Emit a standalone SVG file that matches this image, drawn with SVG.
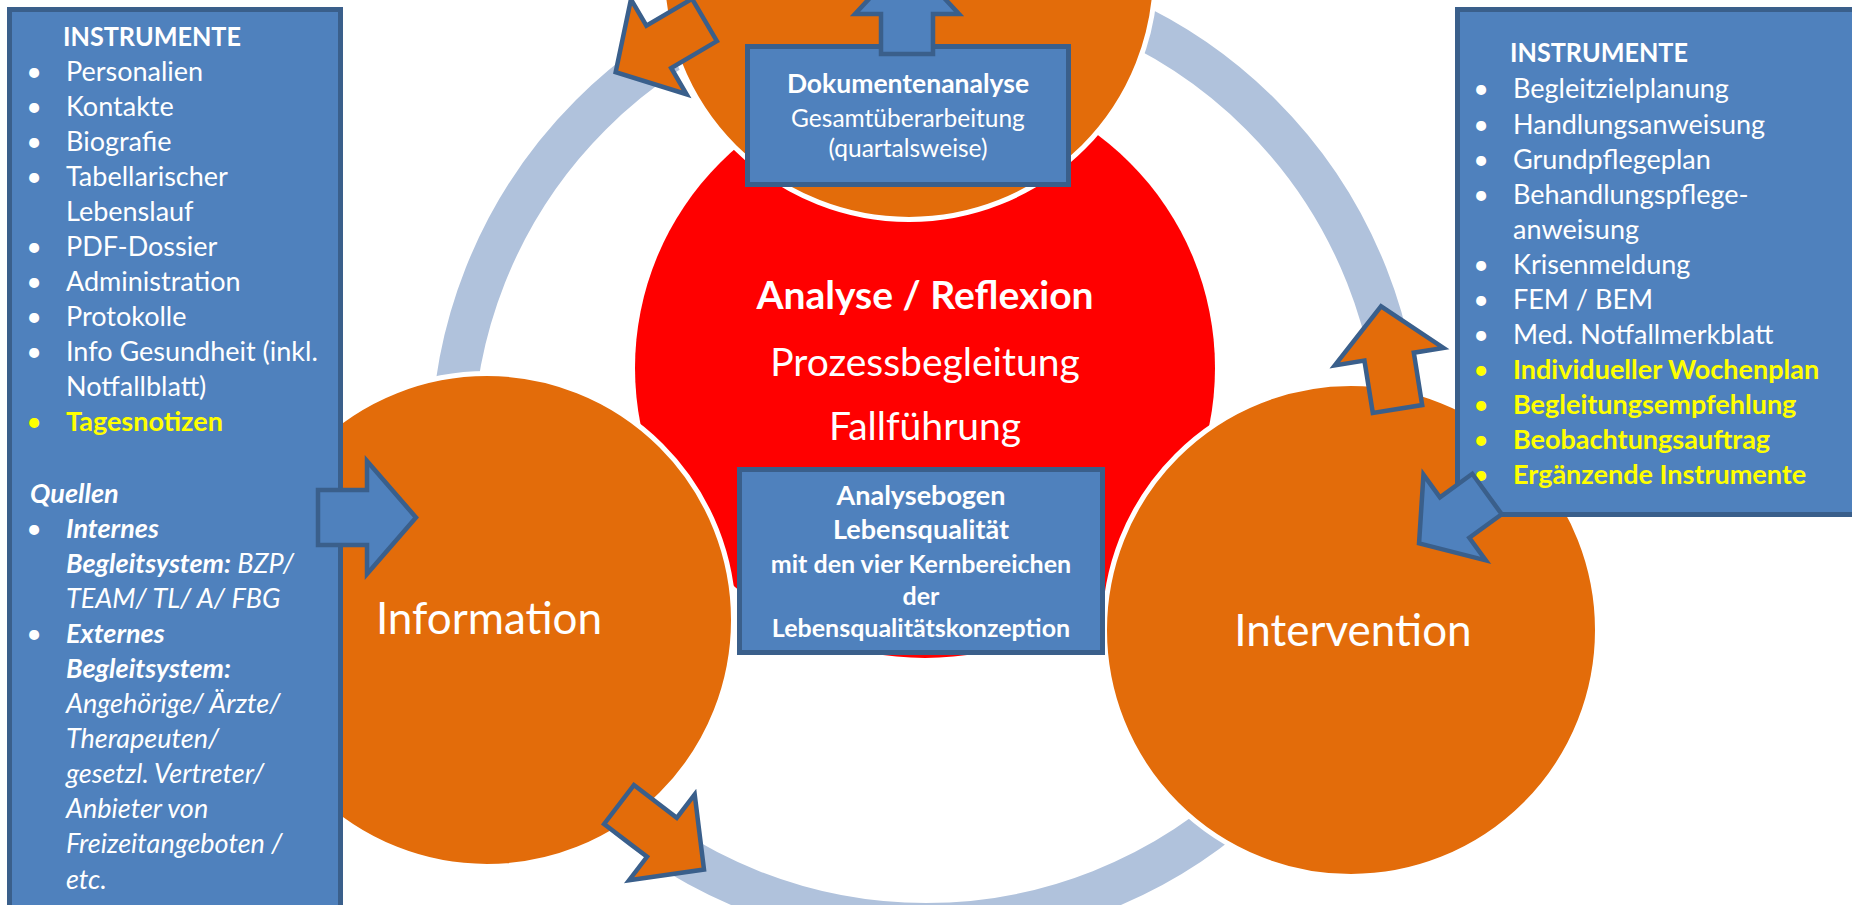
<svg xmlns="http://www.w3.org/2000/svg" width="1852" height="905" viewBox="0 0 1852 905">
<style>
text{font-family:Lato,"Liberation Sans",sans-serif;fill:#fff}
.li{font-size:27px}
.b{font-weight:bold}
.it{font-style:italic}
.y{fill:#FFFF00}
.c{text-anchor:middle}
.box{fill:#4F81BD;stroke:#3A5F8B;stroke-width:5}
.bar{fill:#4F81BD;stroke:#3A5F8B;stroke-width:4.5;stroke-linejoin:miter}
.oar{fill:#E36C0A;stroke:#3A5F8B;stroke-width:4.5;stroke-linejoin:miter}
.oc{fill:#E36C0A;stroke:#fff;stroke-width:5}
</style>
<rect width="1852" height="905" fill="#fff"/>
<g id="ring"><circle cx="926" cy="450" r="474" fill="none" stroke="#B0C2DC" stroke-width="42"/></g>
<g id="center">
<circle cx="925" cy="368" r="290" fill="#FF0000"/>
<text class="c b" x="925" y="309" font-size="39">Analyse / Reflexion</text>
<text class="c" x="925" y="376" font-size="39">Prozessbegleitung</text>
<text class="c" x="925" y="440" font-size="39">Fallführung</text>
</g>
<g id="top-circle"><circle class="oc" cx="909" cy="-27" r="246.5"/></g>
<g id="information"><circle class="oc" cx="487" cy="620" r="246.5"/>
<text x="489" y="634" class="c" font-size="44">Information</text></g>
<g id="intervention"><circle class="oc" cx="1351" cy="630" r="246.5"/>
<text x="1353" y="646" class="c" font-size="44">Intervention</text></g>

<g id="left-box">
<rect class="box" x="9.5" y="9.5" width="331" height="905"/>
<g class="li">
<text class="b" x="63" y="46" textLength="178" lengthAdjust="spacingAndGlyphs">INSTRUMENTE</text>
<text class="c" x="34" y="81">•</text><text x="66" y="81">Personalien</text>
<text class="c" x="34" y="116">•</text><text x="66" y="116">Kontakte</text>
<text class="c" x="34" y="151">•</text><text x="66" y="151">Biografie</text>
<text class="c" x="34" y="186">•</text><text x="66" y="186">Tabellarischer</text>
<text x="66" y="221">Lebenslauf</text>
<text class="c" x="34" y="256">•</text><text x="66" y="256">PDF-Dossier</text>
<text class="c" x="34" y="291">•</text><text x="66" y="291">Administration</text>
<text class="c" x="34" y="326">•</text><text x="66" y="326">Protokolle</text>
<text class="c" x="34" y="361">•</text><text x="66" y="361">Info Gesundheit (inkl.</text>
<text x="66" y="396">Notfallblatt)</text>
<text class="c y" x="34" y="431">•</text><text class="b y" x="66" y="431">Tagesnotizen</text>
<text class="b it" x="30" y="503">Quellen</text>
<text class="c" x="34" y="538">•</text><text class="b it" x="66" y="538">Internes</text>
<text class="it" x="66" y="573"><tspan class="b">Begleitsystem:</tspan> BZP/</text>
<text class="it" x="66" y="608">TEAM/ TL/ A/ FBG</text>
<text class="c" x="34" y="643">•</text><text class="b it" x="66" y="643">Externes</text>
<text class="b it" x="66" y="678">Begleitsystem:</text>
<text class="it" x="66" y="713">Angehörige/ Ärzte/</text>
<text class="it" x="66" y="748">Therapeuten/</text>
<text class="it" x="66" y="783">gesetzl. Vertreter/</text>
<text class="it" x="66" y="818">Anbieter von</text>
<text class="it" x="66" y="853">Freizeitangeboten /</text>
<text class="it" x="66" y="889">etc.</text>
</g>
</g>

<g id="right-box">
<rect class="box" x="1457.5" y="9.5" width="420" height="505"/>
<g class="li">
<text class="b" x="1510" y="62" textLength="178" lengthAdjust="spacingAndGlyphs">INSTRUMENTE</text>
<text class="c" x="1481" y="98">•</text><text x="1513" y="98">Begleitzielplanung</text>
<text class="c" x="1481" y="134">•</text><text x="1513" y="134">Handlungsanweisung</text>
<text class="c" x="1481" y="169">•</text><text x="1513" y="169">Grundpflegeplan</text>
<text class="c" x="1481" y="204">•</text><text x="1513" y="204">Behandlungspflege-</text>
<text x="1513" y="239">anweisung</text>
<text class="c" x="1481" y="274">•</text><text x="1513" y="274">Krisenmeldung</text>
<text class="c" x="1481" y="309">•</text><text x="1513" y="309">FEM / BEM</text>
<text class="c" x="1481" y="344">•</text><text x="1513" y="344">Med. Notfallmerkblatt</text>
<text class="c y" x="1481" y="379">•</text><text class="b y" x="1513" y="379">Individueller Wochenplan</text>
<text class="c y" x="1481" y="414">•</text><text class="b y" x="1513" y="414">Begleitungsempfehlung</text>
<text class="c y" x="1481" y="449">•</text><text class="b y" x="1513" y="449">Beobachtungsauftrag</text>
<text class="c y" x="1481" y="484">•</text><text class="b y" x="1513" y="484">Ergänzende Instrumente</text>
</g>
</g>

<g id="connectors">
<polygon class="oar" transform="translate(704.5,20) rotate(149.6)" points="0,-24.5 53,-24.5 53,-55 103,0 53,55 53,24.5 0,24.5"/>
<polygon class="oar" transform="translate(619,804.5) rotate(37.4)" points="0,-24.5 54,-24.5 54,-54 107,0 54,54 54,24.5 0,24.5"/>
<polygon class="oar" transform="translate(1397.5,409) rotate(-99.1)" points="0,-25 53,-25 53,-55 104,0 53,55 53,25 0,25"/>
<polygon class="bar" transform="translate(318,517.5)" points="0,-27.5 49,-27.5 49,-56.5 98,0 49,56.5 49,27.5 0,27.5"/>
<polygon class="bar" transform="translate(1487,494) rotate(144)" points="0,-25 40,-25 40,-53 84,0 40,53 40,25 0,25"/>
</g>

<g id="dokumentenanalyse">
<rect class="box" x="747.5" y="46.5" width="321" height="138"/>
<polygon class="bar" transform="translate(907,54) rotate(-90)" points="0,-26 40,-26 40,-52 96,0 40,52 40,26 0,26"/>
<text class="c b" x="908" y="93" font-size="26.5">Dokumentenanalyse</text>
<text class="c" x="908" y="127" font-size="24.5">Gesamtüberarbeitung</text>
<text class="c" x="908" y="157" font-size="24.5">(quartalsweise)</text>
</g>

<g id="analysebogen">
<rect class="box" x="739.5" y="469.5" width="363" height="183"/>
<text class="c b" x="921" y="505" font-size="27">Analysebogen</text>
<text class="c b" x="921" y="539" font-size="27">Lebensqualität</text>
<text class="c b" x="921" y="573" font-size="25">mit den vier Kernbereichen</text>
<text class="c b" x="921" y="605" font-size="25">der</text>
<text class="c b" x="921" y="637" font-size="25">Lebensqualitätskonzeption</text>
</g>
</svg>
